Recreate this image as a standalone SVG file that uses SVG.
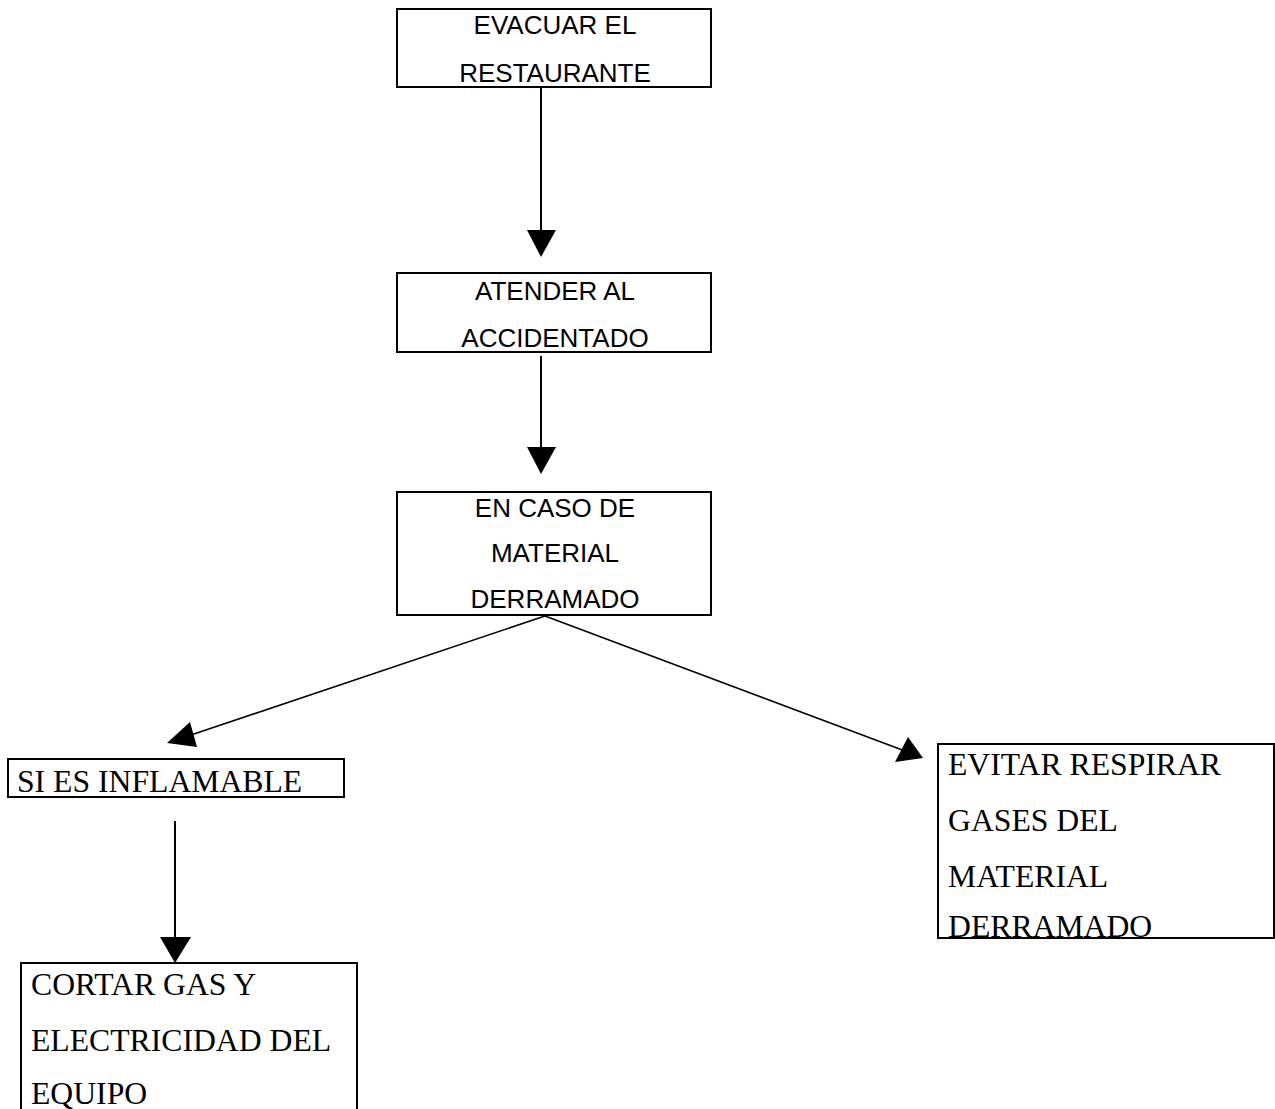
<svg xmlns="http://www.w3.org/2000/svg" width="1275" height="1109" viewBox="0 0 1275 1109">
<style>
.box{fill:#fff;stroke:#000;stroke-width:2}
.sans{font-family:"Liberation Sans",Arial,sans-serif;font-size:26px;fill:#000;text-anchor:middle}
.serif{font-family:"Liberation Serif","Times New Roman",serif;font-size:31.7px;fill:#000}
.ln{stroke:#000;stroke-width:2;fill:none}
.hd{fill:#000}
</style>
<rect width="1275" height="1109" fill="#fff"/>
<g id="connectors">
<line class="ln" x1="541" y1="88" x2="541" y2="232"/>
<polygon class="hd" points="527,230 556,230 541,257"/>
<line class="ln" x1="541" y1="356" x2="541" y2="450"/>
<polygon class="hd" points="527,447 556,447 541,474"/>
<line class="ln" x1="545" y1="616" x2="185" y2="737" style="stroke-width:1.6"/>
<polygon class="hd" points="167,743 190,722 197,747"/>
<line class="ln" x1="545" y1="616" x2="905" y2="751" style="stroke-width:1.6"/>
<polygon class="hd" points="923,758 895,762 908,737"/>
<line class="ln" x1="175" y1="821" x2="175" y2="940"/>
<polygon class="hd" points="160,937 191,937 175,963"/>
</g>
<g id="n1">
<rect class="box" x="397" y="9" width="314" height="78"/>
<text class="sans" x="555" y="34">EVACUAR EL</text>
<text class="sans" x="555" y="82">RESTAURANTE</text>
</g>
<g id="n2">
<rect class="box" x="397" y="273" width="314" height="79"/>
<text class="sans" x="555" y="300">ATENDER AL</text>
<text class="sans" x="555" y="347">ACCIDENTADO</text>
</g>
<g id="n3">
<rect class="box" x="397" y="492" width="314" height="123"/>
<text class="sans" x="555" y="517">EN CASO DE</text>
<text class="sans" x="555" y="562">MATERIAL</text>
<text class="sans" x="555" y="608">DERRAMADO</text>
</g>
<g id="n4">
<rect class="box" x="8" y="759" width="336" height="38"/>
<text class="serif" x="17" y="792">SI ES INFLAMABLE</text>
</g>
<g id="n5">
<rect class="box" x="938" y="744" width="336" height="194"/>
<text class="serif" x="948" y="775">EVITAR RESPIRAR</text>
<text class="serif" x="948" y="831">GASES DEL</text>
<text class="serif" x="948" y="887">MATERIAL</text>
<text class="serif" x="948" y="937">DERRAMADO</text>
</g>
<g id="n6">
<path class="box" d="M21,1112 V963 H357 V1112"/>
<text class="serif" x="31" y="995">CORTAR GAS Y</text>
<text class="serif" x="31" y="1051">ELECTRICIDAD DEL</text>
<text class="serif" x="31" y="1104">EQUIPO</text>
</g>
</svg>
